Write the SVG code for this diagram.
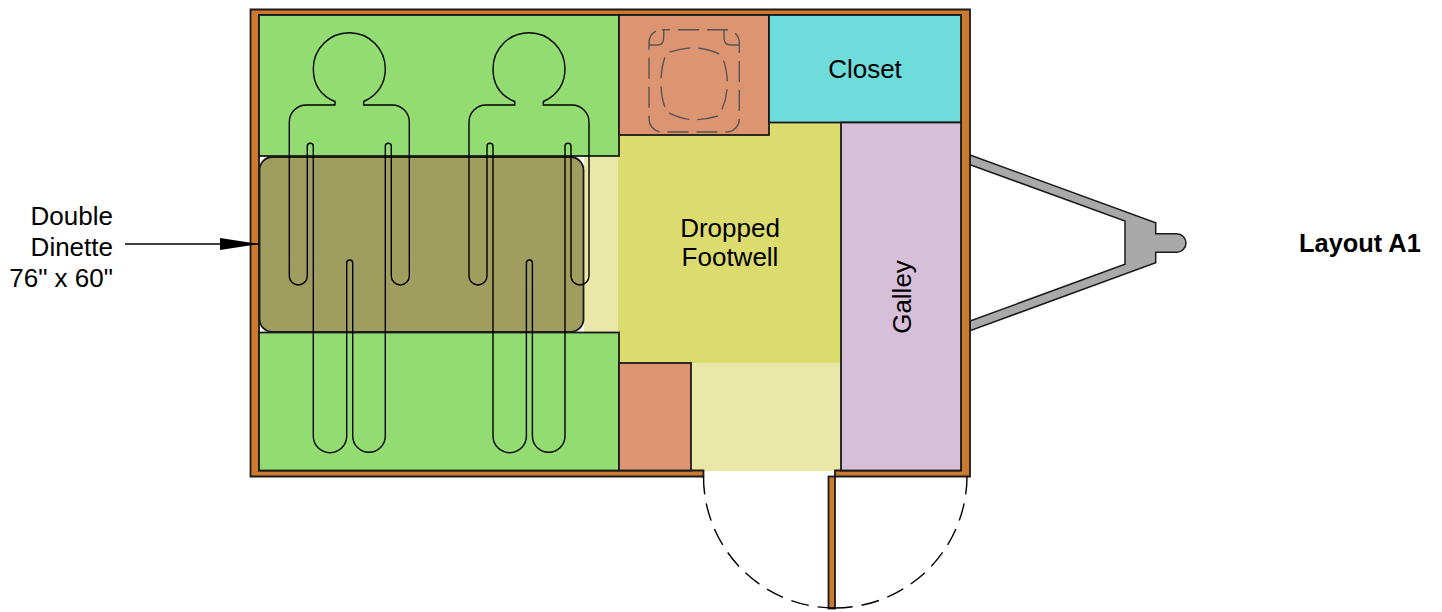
<svg xmlns="http://www.w3.org/2000/svg" width="1442" height="612" viewBox="0 0 1442 612">
<style>
text{font-family:"Liberation Sans",Arial,sans-serif;font-size:26px;fill:#000}
.room{stroke:#1a1a1a;stroke-width:1.8}
.wall{fill:#cb7a30;stroke:#1a1a1a;stroke-width:1.8}
.person{fill:none;stroke:#000;stroke-width:1.4}
.toilet{fill:none;stroke:#555;stroke-width:1.4;stroke-dasharray:21 8}
.swing{fill:none;stroke:#000;stroke-width:1.4;stroke-dasharray:18 9}
</style>
<defs>
<marker id="head" markerUnits="userSpaceOnUse" markerWidth="40" markerHeight="14" refX="39" refY="6" orient="auto"><path d="M0 0L39 6L0 12Z" fill="#000"/></marker>
<path id="body" d="M335 105V101.500C319 95 313.300 82 313.300 68.700A36 36 0 0 1 385.300 68.700C385.300 82 379 95 363.700 101.500V105H392.300A17 17 0 0 1 409.300 122V276A9 9 0 0 1 391.300 276V146.300A3 3 0 0 0 385.300 146.300V436A16.300 16.300 0 0 1 352.700 436V263A3 3 0 0 0 346.700 263V436A16.700 16.700 0 0 1 313.300 436V146.300A3 3 0 0 0 307.300 146.300V276A9 9 0 0 1 289.300 276V122A17 17 0 0 1 306.300 105Z"/>
</defs>
<g id="tongue"><path d="M970 155L1155.700 222.700V233.700H1176.700A9.300 9.300 0 0 1 1176.700 252.300H1155.700V262.700L970 330.700V321L1125 264.300V221L970 164.700Z" fill="#a9a9a9" stroke="#1a1a1a" stroke-width="1.5"/></g>
<g id="floor">
<rect x="584" y="157" width="36" height="176" fill="#e9e8a9"/>
<rect x="692" y="363" width="149" height="108" fill="#e9e8a9"/>
<rect x="618" y="122" width="223" height="241" fill="#dcdb6e"/>
</g>
<g id="wall"><path class="wall" d="M250.500 9.500H970V476.500H835V470.500H961V15H259V470.500H703.500V476.500H250.500Z"/></g>
<g id="bench-top"><rect class="room" x="259" y="15" width="360" height="141" fill="#93dc72"/></g>
<g id="bench-bottom"><rect class="room" x="259" y="332.500" width="360" height="138" fill="#93dc72"/></g>
<g id="toilet-room"><rect class="room" x="619" y="15" width="150" height="120" fill="#dd9471"/>
<rect class="toilet" x="649" y="29.700" width="90.300" height="102.300" rx="13" stroke-dashoffset="13"/>
<path d="M649 45H657Q663.700 45 663.700 38V30M739.300 45H731Q724 45 724 38V30" fill="none" stroke="#555" stroke-width="1.400"/>
<path class="toilet" d="M699.300 48.300C707 49.500 715 51.500 721 55C725 62 727.300 73 727.300 83C727.300 95 724 107 719 115.700C712 118 703 119.700 694 119.700C686 119.700 675 116 667 112C663 104 661 94 661 83C661 72 663 60 667 53C675 50 686 47.700 694 47.700Z"/></g>
<g id="closet"><rect class="room" x="769" y="15" width="192" height="107.500" fill="#6edcdb"/><text x="865" y="78" text-anchor="middle">Closet</text></g>
<g id="galley"><rect class="room" x="841" y="122.500" width="120" height="348" fill="#d7bfd9"/><text transform="translate(911 297) rotate(-90)" text-anchor="middle">Galley</text></g>
<g id="cabinet"><rect class="room" x="619" y="363" width="72" height="107.500" fill="#dd9471"/></g>
<g id="footwell"><text x="730" y="237" text-anchor="middle">Dropped</text><text x="730" y="266" text-anchor="middle">Footwell</text></g>
<g id="dinette"><rect class="room" x="259.500" y="157" width="324" height="175" rx="13" fill="#9f9e5f"/></g>
<g id="person-1"><use href="#body" class="person"/></g>
<g id="person-2"><use href="#body" class="person" x="179.700"/></g>
<g id="door"><rect class="wall" x="828.500" y="476.500" width="6.500" height="132"/>
<path class="swing" d="M703.500 476.500A131.500 131.500 0 0 0 835 608"/><path class="swing" d="M967 476.500A132 132 0 0 1 835 608"/></g>
<g id="label"><text x="113" y="225" text-anchor="end">Double</text><text x="113" y="256" text-anchor="end">Dinette</text><text x="113" y="287" text-anchor="end">76" x 60"</text></g>
<g id="connectors"><line x1="125" y1="244" x2="259" y2="244" stroke="#000" stroke-width="1.300" marker-end="url(#head)"/></g>
<g id="title"><text x="1299" y="252" font-weight="bold" style="font-size:25.400px">Layout A1</text></g>
</svg>
